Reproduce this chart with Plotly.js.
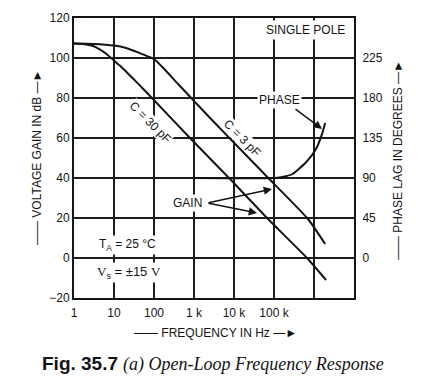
<!DOCTYPE html>
<html>
<head>
<meta charset="utf-8">
<script src="https://cdn.plot.ly/plotly-3.0.1.min.js"></script>
<style>html,body{margin:0;padding:0;background:#fff;}#chart{width:424px;height:379px;}</style>
</head>
<body>
<div id="chart"></div>
<script>
// ---- data ----
const freq30 = [1, 2, 3, 4.5, 6.5, 9.4, 14, 22, 40, 89, 794, 7943, 70800, 670000, 2000000];
const gain30 = [107.2, 106.8, 106, 104.2, 102, 99.2, 96.2, 92.4, 87.2, 80, 60, 39.5, 19.5, 0, -11];

const freq3 = [1, 3, 10, 20, 40, 70, 100, 180, 400, 2818, 60000, 708000, 1900000];
const gain3 = [107.2, 107, 106.2, 105, 102.8, 100.8, 99.5, 94.5, 87, 69, 41.6, 19.5, 7];

const freqPhase = [1000, 100000, 150000, 200000, 290000, 640000, 1130000, 1600000, 1900000];
const phaseLag  = [90, 90, 90.8, 92, 94.5, 108, 123, 140, 152];

const freqTicks = [1, 10, 100, 1000, 10000, 100000, 1000000];
const freqTickText = ['1', '10', '100', '1 k', '10 k', '100 k', ''];
const gainTicks = [-20, 0, 20, 40, 60, 80, 100, 120];
const phaseTicks = [0, 45, 90, 135, 180, 225];

// ---- helpers for placing text in plot pixels ----
const L = 74, T = 18, W = 280, H = 280;
function P(px, py) { return {x: (px - L) / W, y: (T + H - py) / H, xref: 'paper', yref: 'paper'}; }

const ink = '#141414';
const sans = 'Liberation Sans, Arial, sans-serif';
const tickFont = {family: sans, size: 12, color: ink};

const lineStyle = {color: ink, width: 2};
const traces = [
  {x: freq30, y: gain30, type: 'scatter', mode: 'lines', line: Object.assign({shape: 'spline', smoothing: 0.5}, lineStyle), hoverinfo: 'skip'},
  {x: freq3, y: gain3, type: 'scatter', mode: 'lines', line: Object.assign({shape: 'spline', smoothing: 0.5}, lineStyle), hoverinfo: 'skip'},
  {x: freqPhase, y: phaseLag, type: 'scatter', mode: 'lines', yaxis: 'y2', line: Object.assign({shape: 'spline', smoothing: 0.6}, lineStyle), hoverinfo: 'skip'}
];

function txt(px, py, text, extra) {
  return Object.assign(P(px, py), {text: text, showarrow: false, xanchor: 'center', yanchor: 'middle',
    font: {family: sans, size: 12, color: ink}}, extra || {});
}
function arrow(tipX, tipY, tailX, tailY) {
  return Object.assign(P(tipX, tipY), {text: '', showarrow: true, ax: tailX - tipX, ay: tailY - tipY,
    arrowhead: 2, arrowsize: 1.1, arrowwidth: 1.5, arrowcolor: ink});
}

const annotations = [
  txt(150, 122, 'C = 30 pF', {textangle: 45, bgcolor: '#fff', borderpad: 0}),
  txt(242, 138, 'C = 3 pF', {textangle: 45, bgcolor: '#fff', borderpad: 0}),
  txt(279, 100, 'PHASE', {bgcolor: '#fff', borderpad: 1}),
  txt(187, 203, 'GAIN', {bgcolor: '#fff', borderpad: 1}),
  txt(305, 30, 'SINGLE POLE', {bgcolor: '#fff', borderpad: 2}),
  txt(127, 245, 'T<sub>A</sub> = 25 °C', {bgcolor: '#fff', borderpad: 1}),
  txt(129, 272, '<span style="font-family:Liberation Serif">V</span><sub>s</sub> = ±15 <span style="font-family:Liberation Serif">V</span>', {bgcolor: '#fff', borderpad: 1, font: {family: sans, size: 13, color: ink}}),
  arrow(322, 129, 294, 108),
  arrow(272, 189, 207, 203),
  arrow(257, 213, 207, 203),
  txt(37, 158, '—— VOLTAGE GAIN IN dB —►', {textangle: -90}),
  txt(398, 160, '—— PHASE LAG IN DEGREES —►', {textangle: -90}),
  txt(215, 333, '—— FREQUENCY IN Hz —►'),
  txt(213, 364, '<span style="font-size:19px"><b>Fig. 35.7</b></span> <span style="font-family:Liberation Serif"><i>(a) Open-Loop Frequency Response</i></span>', {font: {family: sans, size: 18, color: ink}})
];

const axisCommon = {
  showline: true, linecolor: ink, linewidth: 2, mirror: true,
  showgrid: true, gridcolor: '#1e1e1e', gridwidth: 1.2, zeroline: false,
  tickfont: tickFont, fixedrange: true
};

const layout = {
  width: 424, height: 379,
  margin: {l: 74, r: 70, t: 18, b: 81, pad: 0},
  paper_bgcolor: '#fff', plot_bgcolor: '#fff',
  showlegend: false,
  xaxis: Object.assign({}, axisCommon, {type: 'log', range: [0, 7], tickmode: 'array', tickvals: freqTicks, ticktext: freqTickText,
    ticks: 'outside', ticklen: 3, tickcolor: 'rgba(0,0,0,0)'}),
  yaxis: Object.assign({}, axisCommon, {range: [-20, 120], tickmode: 'array', tickvals: gainTicks, ticks: '', ticklen: 0}),
  yaxis2: {overlaying: 'y', side: 'right', range: [-45, 270], tickmode: 'array', tickvals: phaseTicks,
    showgrid: false, zeroline: false, showline: false, ticks: 'outside', ticklen: 5, tickcolor: 'rgba(0,0,0,0)', tickfont: tickFont, fixedrange: true},
  annotations: annotations
};

Plotly.newPlot('chart', traces, layout, {staticPlot: true, displayModeBar: false});
</script>
</body>
</html>
